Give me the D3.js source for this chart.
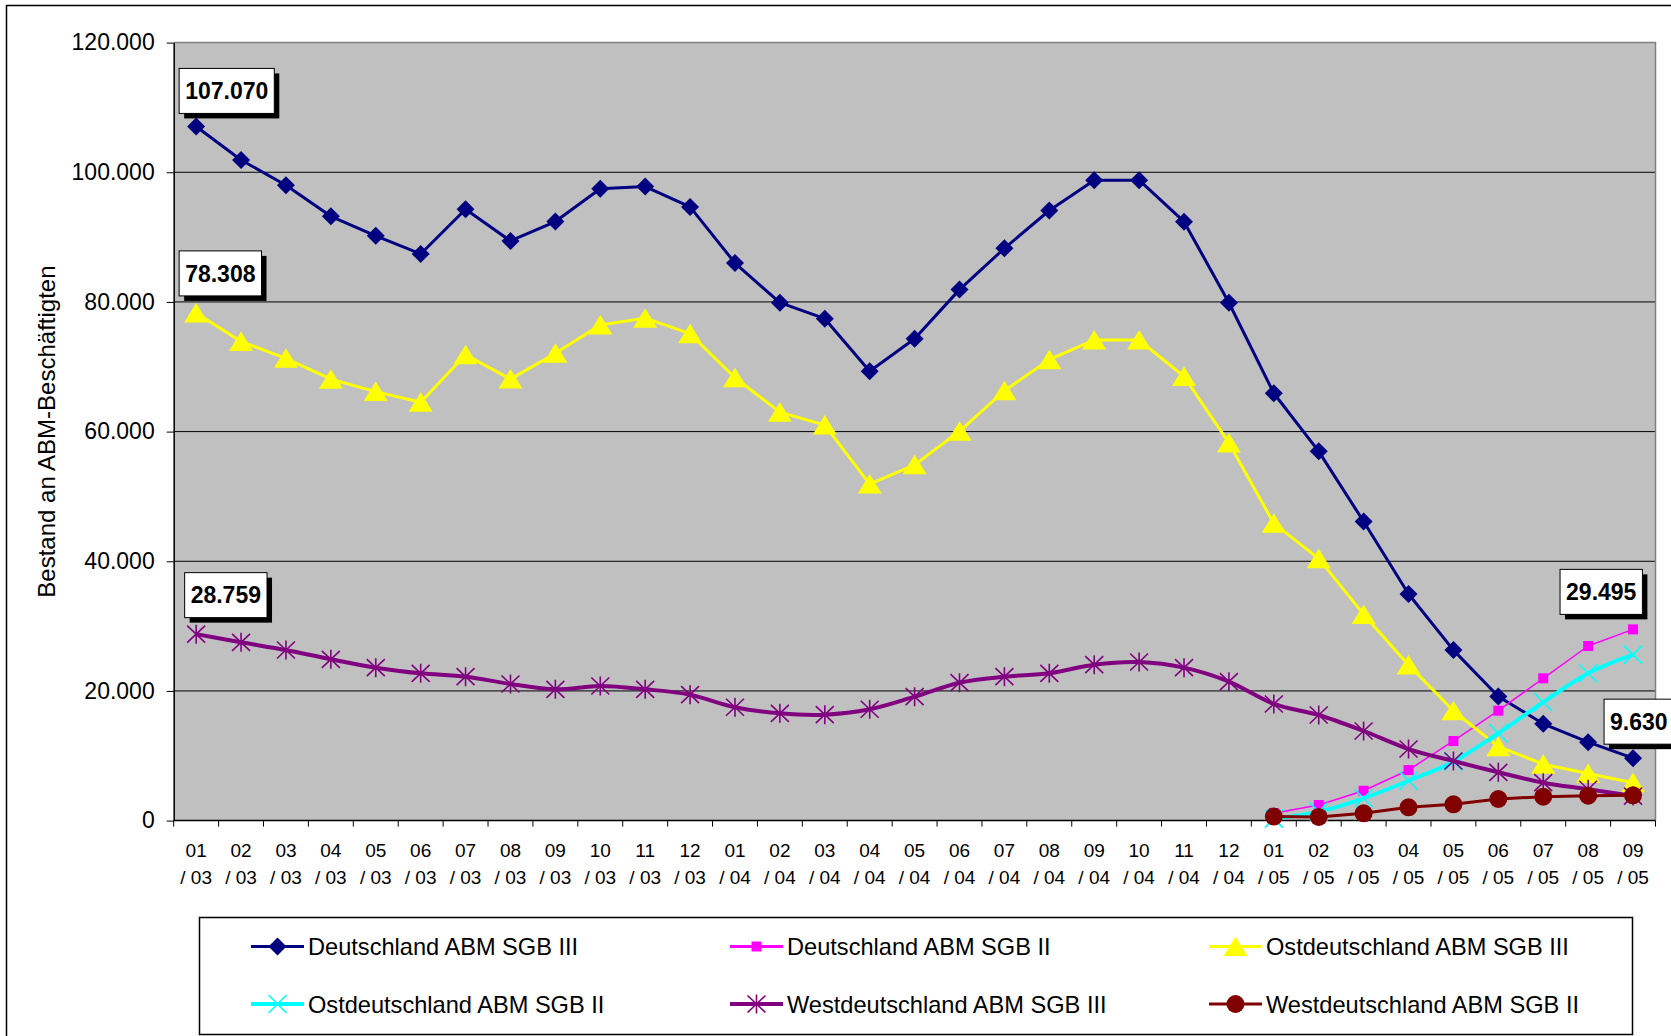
<!DOCTYPE html>
<html><head><meta charset="utf-8">
<script src="https://cdn.jsdelivr.net/npm/d3@7"></script>
<style>html,body{margin:0;padding:0;background:#fff;overflow:hidden}svg{display:block;font-family:Arial,"Liberation Sans",sans-serif}</style>
</head><body><svg id="chart" width="1671" height="1036"></svg>
<script>
// ---------- data ----------
const categories = ["01/03","02/03","03/03","04/03","05/03","06/03","07/03","08/03","09/03","10/03","11/03","12/03",
  "01/04","02/04","03/04","04/04","05/04","06/04","07/04","08/04","09/04","10/04","11/04","12/04",
  "01/05","02/05","03/05","04/05","05/05","06/05","07/05","08/05","09/05"];
const yTicks = [0, 20000, 40000, 60000, 80000, 100000, 120000];

const deSGB3 = [107070,101900,98000,93200,90200,87400,94300,89400,92400,97470,97790,94660,
  86000,79880,77420,69300,74320,81900,88270,94100,98780,98780,92380,79880,
  65910,56950,46130,34950,26300,19150,14930,12100,9630];
const ostSGB3 = [78308,73900,71300,68080,66170,64530,71850,68100,72070,76440,77500,75100,
  68300,63000,61000,51900,54870,60050,66300,71100,74130,74130,68500,58250,
  45850,40400,31800,24000,16940,11400,8700,7270,5850];
const westSGB3 = [28759,27500,26310,24880,23590,22720,22200,21070,20250,20760,20250,19420,
  17480,16550,16340,17170,19110,21270,22200,22720,24050,24460,23590,21430,
  17990,16290,13820,11040,9190,7450,5850,4830,3780];
// SGB II series start in 01/05
const sgb2Start = "01/05";
const deSGB2 = [1150,2400,4600,7800,12280,16950,21950,26930,29495];
const ostSGB2 = [300,1380,3440,6150,9090,13470,18250,22720,25600];
const westSGB2 = [620,560,1130,2050,2510,3330,3690,3840,3900];

const seriesNames = ["Deutschland ABM SGB III","Deutschland ABM SGB II","Ostdeutschland ABM SGB III",
  "Ostdeutschland ABM SGB II","Westdeutschland ABM SGB III","Westdeutschland ABM SGB II"];

// ---------- styles ----------
const styles = [
  {color:"#000080", width:3,   marker:"diamond",  smooth:false},
  {color:"#FF00FF", width:1.5, marker:"square",   smooth:false},
  {color:"#FFFF00", width:3,   marker:"triangle", smooth:false},
  {color:"#00FFFF", width:4,   marker:"x",        smooth:true},
  {color:"#800080", width:4,   marker:"star",     smooth:true},
  {color:"#800000", width:3,   marker:"circle",   smooth:false}
];

function toPoints(values, start) {
  const s = categories.indexOf(start);
  return values.map((v,i)=>({cat:categories[s+i], v}));
}
const seriesData = [
  toPoints(deSGB3,"01/03"), toPoints(deSGB2,sgb2Start), toPoints(ostSGB3,"01/03"),
  toPoints(ostSGB2,sgb2Start), toPoints(westSGB3,"01/03"), toPoints(westSGB2,sgb2Start)
];
const series = seriesData.map((pts,i)=>Object.assign({name:seriesNames[i], points:pts}, styles[i]));

// data label placements (series index, point index, box offset from point)
const dataLabels = [
  {s:0, i:0,  dx:-17, dy:-58},
  {s:2, i:0,  dx:-17, dy:-62},
  {s:4, i:0,  dx:-11.5, dy:-61.5},
  {s:1, i:8,  dx:-73, dy:-60},
  {s:0, i:32, dx:-29, dy:-59}
];

// ---------- layout ----------
const svg = d3.select("#chart");
const plot = {left:173.7, right:1655.5, top:42.6, bottom:820.6};
const x = d3.scaleBand().domain(categories).range([plot.left, plot.right]);
const cx = c => x(c) + x.bandwidth()/2;
const y = d3.scaleLinear().domain([0,120000]).range([plot.bottom, plot.top]);
const fmt = d3.formatLocale({decimal:",", thousands:".", grouping:[3], currency:["","€"]}).format(",");

// outer chart border
svg.append("rect").attr("x",6.5).attr("y",5.5).attr("width",1700).attr("height",1100)
  .attr("fill","#fff").attr("stroke","#000").attr("stroke-width",1.5);

// plot background
svg.append("rect").attr("x",plot.left).attr("y",plot.top)
  .attr("width",plot.right-plot.left).attr("height",plot.bottom-plot.top).attr("fill","#C0C0C0");

// gridlines
svg.append("g").selectAll("line").data(yTicks.filter(t=>t>0 && t<120000)).join("line")
  .attr("x1",plot.left).attr("x2",plot.right).attr("y1",d=>y(d)).attr("y2",d=>y(d))
  .attr("stroke","#000").attr("stroke-width",1);

// plot border top/right
svg.append("path").attr("d",`M${plot.left},${plot.top}H${plot.right}V${plot.bottom}`)
  .attr("fill","none").attr("stroke","#808080").attr("stroke-width",1.5);

// y axis
const yAxis = svg.append("g").attr("transform",`translate(${plot.left},0)`)
  .call(d3.axisLeft(y).tickValues(yTicks).tickSize(7).tickSizeOuter(0).tickPadding(12).tickFormat(fmt));
yAxis.select(".domain").attr("stroke","#000").attr("stroke-width",1.5);
yAxis.selectAll(".tick line").attr("stroke","#000");
yAxis.selectAll("text").attr("font-size",23).attr("fill","#000").attr("font-family",'Arial,"Liberation Sans",sans-serif');

// x axis
svg.append("line").attr("x1",plot.left).attr("x2",plot.right).attr("y1",plot.bottom).attr("y2",plot.bottom)
  .attr("stroke","#000").attr("stroke-width",1.5);
const bounds = categories.map(c=>x(c)).concat([plot.right]);
svg.append("g").selectAll("line").data(bounds).join("line")
  .attr("x1",d=>d).attr("x2",d=>d).attr("y1",plot.bottom).attr("y2",plot.bottom+6)
  .attr("stroke","#000").attr("stroke-width",1);
const xl = svg.append("g").selectAll("text").data(categories).join("text")
  .attr("text-anchor","middle").attr("font-size",19).attr("fill","#000");
xl.append("tspan").attr("x",d=>cx(d)).attr("y",856.5).text(d=>d.split("/")[0]);
xl.append("tspan").attr("x",d=>cx(d)).attr("y",883.5).text(d=>"/ "+d.split("/")[1]);

// axis title
svg.append("text").attr("transform",`translate(55,${(plot.top+plot.bottom)/2}) rotate(-90)`)
  .attr("text-anchor","middle").attr("font-size",24).attr("fill","#000")
  .text("Bestand an ABM-Beschäftigten");

// markers
function drawMarker(g, type, color) {
  switch(type) {
    case "diamond": g.append("path").attr("d","M0,-9L9,0L0,9L-9,0Z").attr("fill",color); break;
    case "square": g.append("rect").attr("x",-5).attr("y",-5).attr("width",10).attr("height",10).attr("fill",color); break;
    case "triangle": g.append("path").attr("d","M0,-10L12,9.5L-12,9.5Z").attr("fill",color); break;
    case "star": g.append("path").attr("d","M0,-9.5V9.5M-9,-8.5L9,8.5M-9,8.5L9,-8.5").attr("stroke",color).attr("stroke-width",1.6).attr("fill","none"); break;
    case "x": g.append("path").attr("d","M-9,-9L9,9M-9,9L9,-9").attr("stroke",color).attr("stroke-width",1.6).attr("fill","none"); break;
    case "circle": g.append("circle").attr("r",9).attr("fill",color); break;
  }
}

// lines
series.forEach(s=>{
  const line = d3.line().x(d=>cx(d.cat)).y(d=>y(d.v))
    .curve(s.smooth ? d3.curveCatmullRom.alpha(0) : d3.curveLinear);
  svg.append("path").datum(s.points).attr("d",line).attr("fill","none")
    .attr("stroke",s.color).attr("stroke-width",s.width).attr("stroke-linejoin","round");
  s.points.forEach(p=>{
    const g = svg.append("g").attr("transform",`translate(${cx(p.cat)},${y(p.v)})`);
    drawMarker(g, s.marker, s.color);
  });
});

// data labels
dataLabels.forEach(l=>{
  const s = series[l.s], p = s.points[l.i];
  const px = cx(p.cat), py = y(p.v);
  const g = svg.append("g").attr("transform",`translate(${px+l.dx},${py+l.dy})`);
  const shadow = g.append("rect").attr("x",5).attr("y",5).attr("height",45).attr("fill","#000");
  const box = g.append("rect").attr("x",0).attr("y",0).attr("height",45).attr("fill","#fff")
    .attr("stroke","#000").attr("stroke-width",1);
  const t = g.append("text").attr("y",22.5).attr("dy","0.36em").attr("font-size",23).attr("font-weight","bold")
    .attr("fill","#000").text(fmt(p.v));
  const w = t.node().getComputedTextLength() + 12;
  shadow.attr("width",w); box.attr("width",w);
  t.attr("x",w/2).attr("text-anchor","middle");
});

// legend
svg.append("rect").attr("x",199.5).attr("y",917.5).attr("width",1433).attr("height",117)
  .attr("fill","#fff").attr("stroke","#000").attr("stroke-width",1.5);
const legCols = [251, 730, 1209];
const legRows = [946.5, 1004];
series.forEach((s,i)=>{
  const lx = legCols[i%3], ly = legRows[Math.floor(i/3)];
  const g = svg.append("g").attr("transform",`translate(${lx},${ly})`);
  g.append("line").attr("x1",0).attr("x2",53).attr("stroke",s.color).attr("stroke-width",Math.max(s.width,3));
  drawMarker(g.append("g").attr("transform","translate(26.5,0)"), s.marker, s.color);
  g.append("text").attr("x",57).attr("dy","0.36em").attr("font-size",23.6).attr("fill","#000").text(s.name);
});
</script></body></html>
